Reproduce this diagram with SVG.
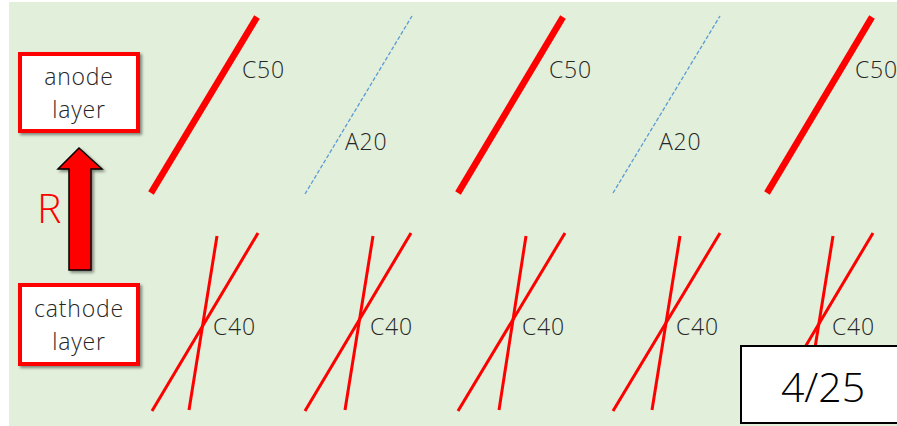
<svg xmlns="http://www.w3.org/2000/svg" width="897" height="426" viewBox="0 0 897 426">
<defs>
<style>
.lbl{font-family:"Open Sans","Noto Sans",sans-serif;font-size:23px;font-weight:350;fill:#262626;letter-spacing:0.8px}
.box{fill:#ffffff;stroke:#ff0000;stroke-width:4}
.c50{stroke:#ff0000;stroke-width:6.5;stroke-linecap:butt}
.a20{stroke:#5b9bd5;stroke-width:1.3;stroke-dasharray:4 2}
.c40{stroke:#ff0000;stroke-width:3}
</style>
<filter id="sh" x="-20%" y="-20%" width="140%" height="140%">
<feGaussianBlur in="SourceAlpha" stdDeviation="1.5"/>
<feOffset dx="2" dy="2" result="b"/>
<feComponentTransfer><feFuncA type="linear" slope="0.45"/></feComponentTransfer>
<feMerge><feMergeNode/><feMergeNode in="SourceGraphic"/></feMerge>
</filter>
</defs>
<rect x="0" y="0" width="897" height="426" fill="#ffffff"/>
<rect x="9" y="2" width="888" height="424" fill="#e2efda"/>
<g id="connectors">
<line class="c50" x1="151" y1="193" x2="257" y2="17"/>
<line class="a20" x1="305" y1="194" x2="412" y2="16"/>
<line class="c50" x1="458" y1="193" x2="563" y2="17"/>
<line class="a20" x1="613" y1="193" x2="720" y2="16"/>
<line class="c50" x1="767" y1="193" x2="872" y2="17"/>
<line class="c40" x1="217" y1="236" x2="189" y2="410"/>
<line class="c40" x1="258" y1="233" x2="152" y2="411"/>
<line class="c40" x1="373" y1="236" x2="345" y2="410"/>
<line class="c40" x1="411" y1="233" x2="305" y2="411"/>
<line class="c40" x1="526" y1="236" x2="499" y2="410"/>
<line class="c40" x1="565" y1="233" x2="458" y2="411"/>
<line class="c40" x1="680" y1="236" x2="652" y2="410"/>
<line class="c40" x1="720" y1="233" x2="613" y2="411"/>
<line class="c40" x1="833" y1="236" x2="805" y2="410"/>
<line class="c40" x1="873" y1="233" x2="767" y2="411"/>
</g>
<g id="labels">
<text class="lbl" x="242" y="78">C50</text>
<text class="lbl" x="345" y="150">A20</text>
<text class="lbl" x="549" y="78">C50</text>
<text class="lbl" x="659" y="150">A20</text>
<text class="lbl" x="855" y="78">C50</text>
<text class="lbl" x="213" y="335">C40</text>
<text class="lbl" x="370" y="335">C40</text>
<text class="lbl" x="522" y="335">C40</text>
<text class="lbl" x="676" y="335">C40</text>
<text class="lbl" x="832" y="335">C40</text>
</g>
<g id="anode">
<rect class="box" x="20" y="54" width="118" height="77" filter="url(#sh)"/>
<text class="lbl" x="79" y="85" text-anchor="middle">anode</text>
<text class="lbl" x="79" y="118" text-anchor="middle">layer</text>
</g>
<g id="cathode">
<rect class="box" x="20" y="285" width="118" height="79" filter="url(#sh)"/>
<text class="lbl" x="79" y="317" text-anchor="middle">cathode</text>
<text class="lbl" x="79" y="350" text-anchor="middle">layer</text>
</g>
<g id="arrow">
<polygon points="79,148 102,169 91,169 91,270 69,270 69,169 58,169" fill="#ff0000" stroke="#000000" stroke-width="1.5" stroke-linejoin="miter" filter="url(#sh)"/>
<text x="37" y="223" style="font-family:'Open Sans','Noto Sans',sans-serif;font-size:41px;font-weight:350;fill:#ff0000">R</text>
</g>
<g id="page">
<rect x="741" y="346" width="160" height="77" fill="#ffffff" stroke="#000000" stroke-width="2"/>
<text x="823" y="402" text-anchor="middle" style="font-family:'Open Sans','Noto Sans',sans-serif;font-size:41px;font-weight:350;fill:#000000">4/25</text>
</g>
</svg>
